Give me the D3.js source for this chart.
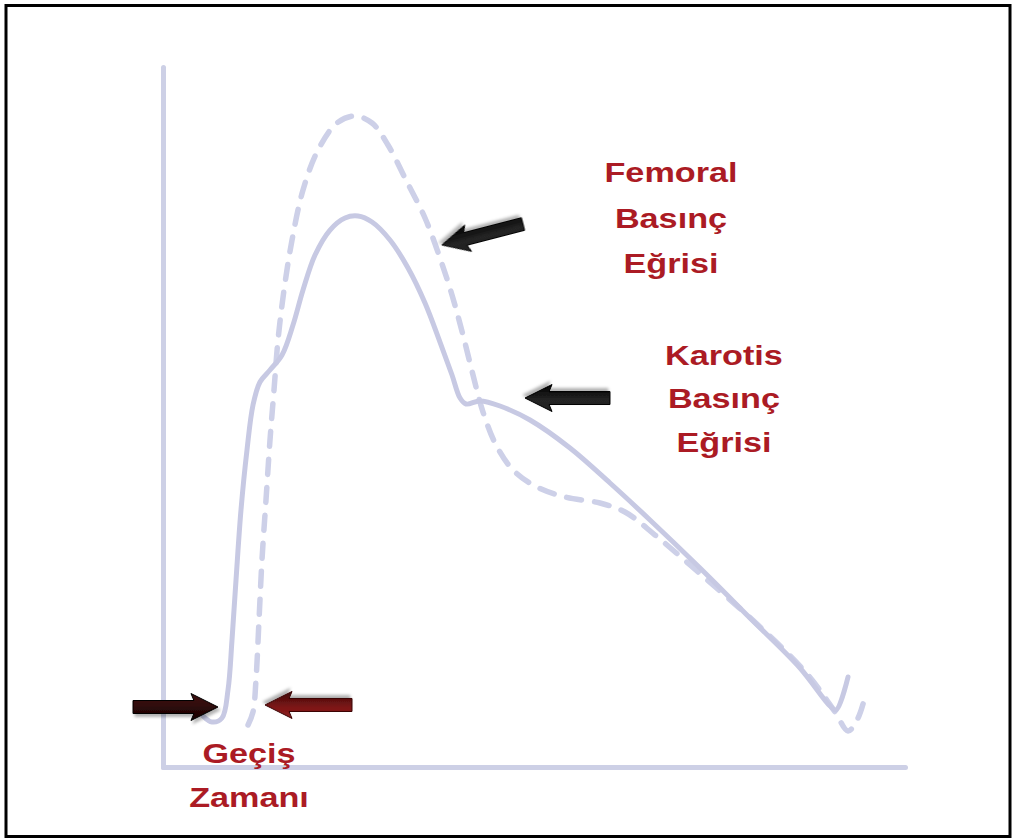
<!DOCTYPE html>
<html>
<head>
<meta charset="utf-8">
<script src="https://cdn.jsdelivr.net/npm/d3@7"></script>
<style>
  html, body { margin: 0; padding: 0; background: #fff; }
  svg { display: block; }
</style>
</head>
<body>
<svg id="chart" width="1014" height="839"></svg>
<script>
// ---- Data (time units 0-100, pressure units 0-100) ----
const carotidTime = [5.39, 6.60, 7.95, 8.76, 9.30, 9.84, 10.51, 11.32, 12.13, 13.07, 14.42, 16.04, 17.52, 18.87, 20.49, 22.51, 24.53, 26.28, 28.17, 30.59, 33.02, 35.31, 37.33, 38.95, 40.03, 40.84, 42.72, 45.42, 49.46, 54.85, 60.24, 65.63, 72.37, 79.11, 85.85, 89.89, 90.70, 92.32];
const carotidPressure = [7.29, 6.43, 7.0, 11.0, 18.14, 26.71, 36.71, 45.29, 51.71, 55.0, 56.71, 58.86, 63.14, 68.14, 73.14, 76.71, 78.43, 78.71, 77.86, 75.29, 71.29, 66.29, 60.71, 56.0, 52.71, 51.86, 52.29, 51.57, 49.57, 45.57, 40.57, 35.29, 28.43, 21.29, 14.14, 8.71, 8.14, 12.86];

const femoralTime = [11.46, 12.13, 12.53, 12.94, 13.34, 13.88, 14.42, 14.96, 15.50, 16.31, 17.39, 18.87, 20.89, 23.45, 25.88, 28.17, 30.32, 32.61, 35.31, 37.33, 38.95, 40.43, 41.78, 43.13, 44.88, 47.17, 50.13, 54.18, 58.89, 62.26, 66.31, 73.05, 80.19, 86.93, 90.57, 92.32, 93.67, 94.74];
const femoralPressure = [6.0, 7.86, 12.43, 21.0, 29.57, 38.14, 46.71, 53.86, 61.0, 68.14, 75.29, 82.43, 88.14, 92.0, 93.0, 92.0, 88.86, 84.14, 78.43, 72.71, 67.43, 61.71, 56.0, 50.71, 46.0, 42.43, 40.14, 38.57, 37.71, 36.43, 33.14, 27.0, 20.29, 13.14, 7.86, 5.14, 7.0, 10.57];

// Annotation arrows: tail and tip as [time, pressure]
const arrowNames = ["femoral", "karotis", "gecisLeft", "gecisRight"];
const arrowTails = [[48.52, 77.57], [60.24, 52.71], [-4.04, 8.57], [25.47, 8.86]];
const arrowTips = [[37.6, 74.57], [48.79, 52.71], [7.41, 8.57], [13.75, 8.86]];

// Labels
const labelLines = [["Femoral", "Basınç", "Eğrisi"], ["Karotis", "Basınç", "Eğrisi"], ["Geçiş", "Zamanı"]];
const labelAnchors = [[68.46, 83.57], [75.6, 57.43], [11.59, 0.57]];

// ---- Layout ----
const svg = d3.select("#chart");
const x = d3.scaleLinear().domain([0, 100]).range([163, 905]);
const y = d3.scaleLinear().domain([0, 100]).range([767, 67]);

const curveColor = "#c7c9e3";
const axisColor = "#cdd0e6";
const textColor = "#ab1b24";

// frame
svg.append("rect")
  .attr("x", 6).attr("y", 5.5).attr("width", 1004).attr("height", 831)
  .attr("fill", "#fff").attr("stroke", "#000").attr("stroke-width", 3);

// defs: shadow + gradients
const defs = svg.append("defs");
const f = defs.append("filter").attr("id", "shadow")
  .attr("x", "-30%").attr("y", "-60%").attr("width", "160%").attr("height", "220%");
f.append("feDropShadow").attr("dx", 2).attr("dy", 3).attr("stdDeviation", 1.6)
  .attr("flood-color", "#000").attr("flood-opacity", 0.3);

function grad(id, c1, c2, c3) {
  const g = defs.append("linearGradient").attr("id", id)
    .attr("x1", 0).attr("y1", 0).attr("x2", 0).attr("y2", 1);
  g.append("stop").attr("offset", "0%").attr("stop-color", c1);
  g.append("stop").attr("offset", "40%").attr("stop-color", c2);
  g.append("stop").attr("offset", "100%").attr("stop-color", c3);
}
grad("gBlack", "#1e1e1e", "#252525", "#000");
grad("gMaroon", "#3e0c0c", "#320909", "#140202");
grad("gRed", "#8e1d1d", "#7e1717", "#3e0808");
const arrowFill = ["url(#gBlack)", "url(#gBlack)", "url(#gMaroon)", "url(#gRed)"];

// axes (no ticks, only the domain lines)
const xAxis = d3.axisBottom(x).ticks(0).tickSize(0).tickSizeOuter(0);
const yAxis = d3.axisLeft(y).ticks(0).tickSize(0).tickSizeOuter(0);
const gx = svg.append("g").attr("transform", `translate(0,${y(0)})`).call(xAxis);
const gy = svg.append("g").attr("transform", `translate(${x(0)},0)`).call(yAxis);
[gx, gy].forEach(g => {
  g.select(".domain").attr("stroke", axisColor).attr("stroke-width", 5).attr("stroke-linecap", "round");
  g.selectAll("text").remove();
});

// curves
const line = d3.line().x(d => x(d[0])).y(d => y(d[1])).curve(d3.curveCatmullRom.alpha(0.5));
const carotid = carotidTime.map((t, i) => [t, carotidPressure[i]]);
const femoral = femoralTime.map((t, i) => [t, femoralPressure[i]]);

svg.append("path").datum(femoral).attr("d", line)
  .attr("fill", "none").attr("stroke", "#cdd0e8").attr("stroke-width", 5.5)
  .attr("stroke-dasharray", "15 13").attr("stroke-linecap", "round");

svg.append("path").datum(carotid).attr("d", line)
  .attr("fill", "none").attr("stroke", curveColor).attr("stroke-width", 5)
  .attr("stroke-linejoin", "round").attr("stroke-linecap", "round");

// arrows
function arrowPath(tail, tip, shaft, head, headLen) {
  const x0 = x(tail[0]), y0 = y(tail[1]), x1 = x(tip[0]), y1 = y(tip[1]);
  const L = Math.hypot(x1 - x0, y1 - y0);
  const ang = Math.atan2(y1 - y0, x1 - x0) * 180 / Math.PI;
  const s = shaft / 2, h = head / 2, b = L - headLen;
  const p = `M0,${-s}L${b},${-s}L${b - 3},${-h}L${L},0L${b - 3},${h}L${b},${s}L0,${s}Z`;
  return { d: p, transform: `translate(${x0},${y0}) rotate(${ang})` };
}
arrowNames.forEach((n, i) => {
  const a = arrowPath(arrowTails[i], arrowTips[i], 13, 27, 24);
  svg.append("path").attr("class", "arrow-" + n)
    .attr("d", a.d).attr("transform", a.transform)
    .attr("fill", arrowFill[i])
    .attr("stroke", i === 3 ? "#3a0606" : "#000").attr("stroke-width", 1)
    .attr("stroke-linejoin", "round")
    .attr("filter", "url(#shadow)");
});

// labels
const lineGap = [45.5, 43.5, 44];
labelLines.forEach((lines, i) => {
  const cx = x(labelAnchors[i][0]), by = y(labelAnchors[i][1]);
  lines.forEach((t, j) => {
    svg.append("text")
      .attr("transform", `translate(${cx},${by + j * lineGap[i]}) scale(1.2,1)`)
      .attr("text-anchor", "middle")
      .attr("font-family", "'Liberation Sans', Arial, sans-serif")
      .attr("font-weight", "bold")
      .attr("font-size", 28.5)
      .attr("fill", textColor)
      .text(t);
  });
});
</script>
</body>
</html>
